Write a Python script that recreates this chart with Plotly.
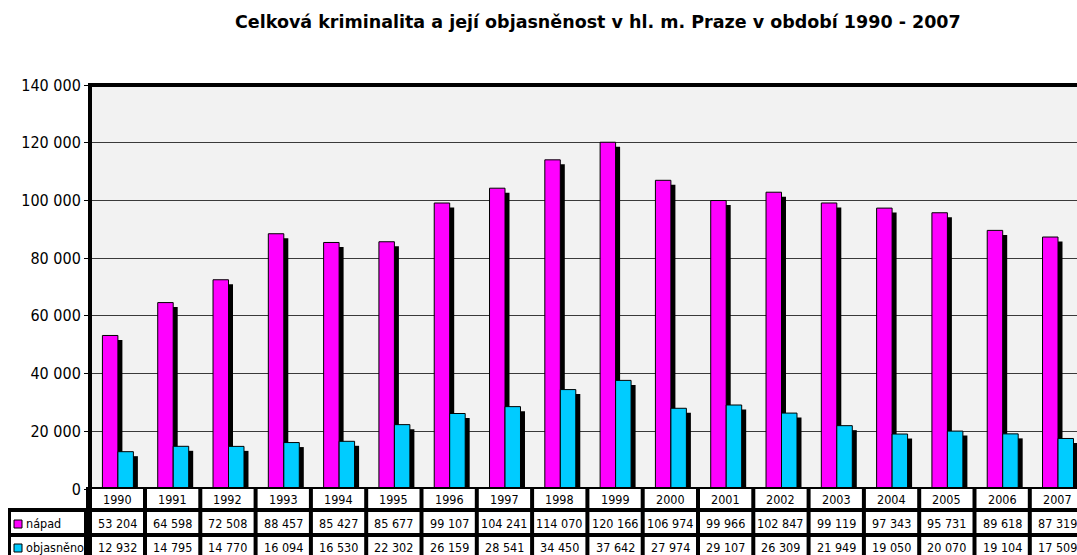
import plotly.graph_objects as go

# ---------------- data ----------------
years = ["1990", "1991", "1992", "1993", "1994", "1995", "1996", "1997", "1998",
         "1999", "2000", "2001", "2002", "2003", "2004", "2005", "2006", "2007"]
napad = [53204, 64598, 72508, 88457, 85427, 85677, 99107, 104241, 114070,
         120166, 106974, 99966, 102847, 99119, 97343, 95731, 89618, 87319]
objasneno = [12932, 14795, 14770, 16094, 16530, 22302, 26159, 28541, 34450,
             37642, 27974, 29107, 26309, 21949, 19050, 20070, 19104, 17509]
series_names = ["nápad", "objasněno"]
series_colors = ["#FF00FF", "#00CCFF"]
y_tick_vals = [0, 20000, 40000, 60000, 80000, 100000, 120000, 140000]
y_tick_text = ["0", "20 000", "40 000", "60 000", "80 000", "100 000", "120 000", "140 000"]
title_text = "Celková kriminalita a její objasněnost v hl. m. Praze v období 1990 - 2007"

# ---------------- layout geometry (pixels) ----------------
W, H = 1077, 555
PL, PT, PB = 90, 85, 489     # plot left / top / bottom in pixels
PW = W - PL
PH = PB - PT
COL0, COLW = 89.7, 55.3
YMAX = y_tick_vals[-1]
n = len(years)
x_range = [(PL - COL0) / COLW - 0.5, (W - COL0) / COLW - 0.5]

SH_PX = 4.5
sh_dx = SH_PX / COLW
sh_dy = SH_PX * YMAX / PH
BAR_W = 0.28
offsets = [-0.27, 0.01]

TFONT = "DejaVu Sans Condensed, DejaVu Sans, sans-serif"


def pxx(px):
    return (px - PL) / PW


def pyy(py):
    return (PB - py) / PH


fig = go.Figure()
xs = list(range(n))
for name, vals, col, off in zip(series_names, [napad, objasneno], series_colors, offsets):
    fig.add_trace(go.Bar(x=xs, y=[v - sh_dy for v in vals], width=BAR_W, offset=off + sh_dx,
                         marker=dict(color="black", line=dict(width=0)),
                         showlegend=False, hoverinfo="skip"))
    fig.add_trace(go.Bar(x=xs, y=vals, width=BAR_W, offset=off, name=name,
                         marker=dict(color=col, line=dict(color="black", width=1)),
                         showlegend=False))

shapes = []


def rect(x0, x1, y0, y1, fill, line_w=0, line_c="black"):
    shapes.append(dict(type="rect", xref="paper", yref="paper",
                       x0=pxx(x0), x1=pxx(x1), y0=pyy(y1), y1=pyy(y0),
                       fillcolor=fill, line=dict(width=line_w, color=line_c), layer="above"))


# table black backgrounds
rect(86, 1095, 487, 570, "black")
rect(8, 92, 508, 570, "black")
rows = [(489, 508), (512, 533), (537, 570)]
for k in range(n):
    cx0 = COL0 + k * COLW + 2
    cx1 = COL0 + (k + 1) * COLW - 2
    if k == 0:
        cx0 = 92
    for (ry0, ry1) in rows:
        rect(cx0, cx1, ry0, ry1, "white")
# legend cells
for (ry0, ry1) in rows[1:]:
    rect(11, 84, ry0, ry1, "white")
# frame lines
rect(88, 92, 83, 512, "black")
rect(88, 1095, 83, 87, "black")

annotations = []
annotations.append(dict(text="<b>" + title_text + "</b>", xref="paper", yref="paper",
                        x=pxx(598), y=pyy(22), xanchor="center", yanchor="middle",
                        showarrow=False,
                        font=dict(family="DejaVu Sans, sans-serif", size=17.5, color="black")))


def fmt(v):
    return f"{v:,}".replace(",", " ")


row_centers = [499, 523, 547]
for k in range(n):
    for txt, ry in zip([years[k], fmt(napad[k]), fmt(objasneno[k])], row_centers):
        annotations.append(dict(text=txt, xref="x", yref="paper", x=k, y=pyy(ry),
                                xanchor="center", yanchor="middle", showarrow=False,
                                font=dict(family=TFONT, size=12.5, color="black")))

sw_tops = [520, 544]
for name, col, ry, st in zip(series_names, series_colors, row_centers[1:], sw_tops):
    rect(14, 22, st, st + 8, col, 1, "black")
    annotations.append(dict(text=name, xref="paper", yref="paper", x=pxx(24), y=pyy(ry),
                            xanchor="left", yanchor="middle", showarrow=False,
                            font=dict(family=TFONT, size=12.5, color="black")))

fig.update_layout(
    width=W, height=H,
    margin=dict(l=PL, r=0, t=PT, b=H - PB, pad=0),
    paper_bgcolor="white", plot_bgcolor="#F2F2F2",
    barmode="overlay",
    shapes=shapes, annotations=annotations,
    xaxis=dict(range=x_range, showticklabels=False, showgrid=False, zeroline=False,
               showline=False, ticks=""),
    yaxis=dict(range=[0, YMAX], tickvals=y_tick_vals, ticktext=y_tick_text,
               showgrid=True, gridcolor="#3a3a3a", gridwidth=1, zeroline=False,
               showline=False, ticks="outside", ticklen=5, tickcolor="black", tickwidth=1,
               tickfont=dict(family=TFONT, size=16, color="black")),
    showlegend=False,
)

fig.write_html("out.html", config={"displayModeBar": False},
               post_script="document.body.style.margin='0';document.body.style.overflow='hidden';")
